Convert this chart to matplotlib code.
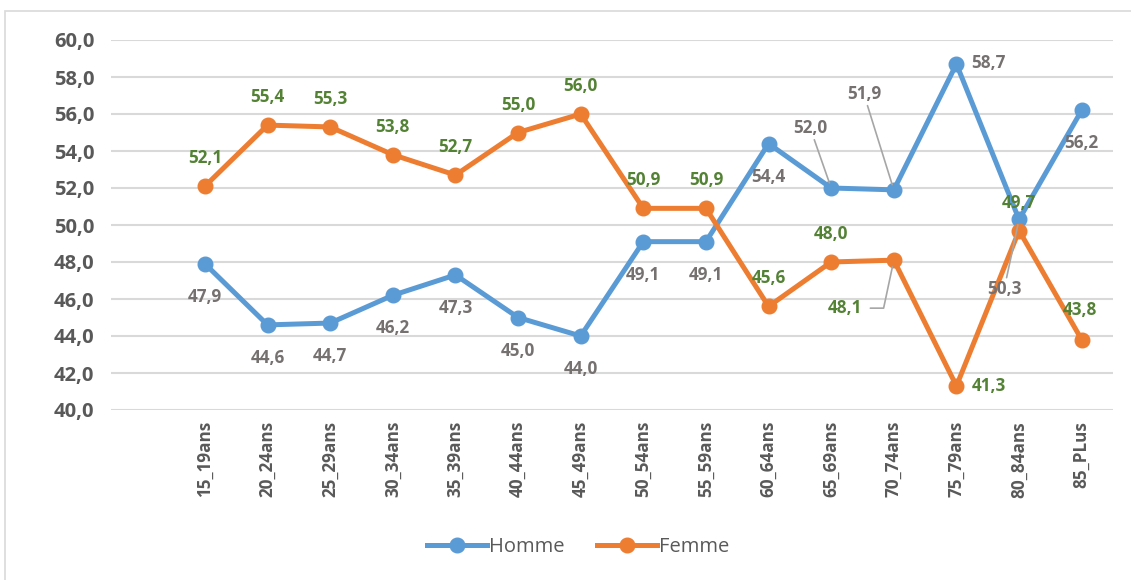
import matplotlib
matplotlib.use('Agg')
from matplotlib import pyplot as plt
from matplotlib.patches import Rectangle

# age groups and values
ages = ['15_19ans', '20_24ans', '25_29ans', '30_34ans', '35_39ans', '40_44ans',
        '45_49ans', '50_54ans', '55_59ans', '60_64ans', '65_69ans', '70_74ans',
        '75_79ans', '80_84ans', '85_PLus']
homme = [47.9, 44.6, 44.7, 46.2, 47.3, 45.0, 44.0, 49.1, 49.1, 54.4, 52.0, 51.9, 58.7, 50.3, 56.2]
femme = [52.1, 55.4, 55.3, 53.8, 52.7, 55.0, 56.0, 50.9, 50.9, 45.6, 48.0, 48.1, 41.3, 49.7, 43.8]

blue = '#5B9BD5'
orange = '#ED7D31'
gray_txt = '#767171'
green_txt = '#548235'
axis_txt = '#595959'
font = 'Open Sans'

fig = plt.figure(figsize=(11.31, 5.8), dpi=100)
ax = fig.add_axes([111 / 1131, 1 - 410 / 580, (1113 - 111) / 1131, (410 - 40) / 580])

# outer chart border
fig.patches.append(Rectangle((5 / 1131, -0.01), 1.0, 1 - 11 / 580 + 0.01, transform=fig.transFigure,
                             fill=False, edgecolor='#D9D9D9', lw=1.2))

x = list(range(len(ages)))
ax.plot(x, homme, color=blue, lw=3.6, marker='o', ms=10.5, label='Homme', zorder=3)
ax.plot(x, femme, color=orange, lw=3.6, marker='o', ms=10.5, label='Femme', zorder=3)

ax.set_xlim(-1.5, 14.5)
ax.set_ylim(40, 60)
ax.set_yticks(range(40, 61, 2))
ax.set_yticklabels([f'{v:.1f}'.replace('.', ',') for v in range(40, 61, 2)],
                   fontsize=14.5, fontweight='bold', color=axis_txt, family=font)
ax.set_xticks(x)
ax.set_xticklabels(ages, rotation=90, fontsize=12.3, fontweight='bold', color=axis_txt, family=font)
ax.tick_params(length=0, pad=12, axis='y')
ax.tick_params(length=0, pad=8, axis='x')
ax.grid(axis='y', color='#D9D9D9', lw=1.5)
ax.set_axisbelow(True)
for s in ax.spines.values():
    s.set_visible(False)


def fmt(v):
    return f'{v:.1f}'.replace('.', ',')


lead = dict(arrowstyle='-', color='#A6A6A6', lw=1.2, shrinkA=0, shrinkB=4)

# Homme labels (below by default)
for i, v in enumerate(homme):
    off = (0, -33)
    arrow = None
    if i == 10:
        off = (-21, 60)
        arrow = lead
    elif i == 11:
        off = (-30, 96)
        arrow = lead
    elif i == 12:
        off = (32, 1)
    elif i == 13:
        off = (-15, -70)
        arrow = lead
    ax.annotate(fmt(v), (i, v), xytext=off, textcoords='offset pixels', fontsize=12.3,
                fontweight='bold', color=gray_txt, family=font, arrowprops=arrow,
                ha='center', va='center', zorder=4)

# Femme labels (above by default)
for i, v in enumerate(femme):
    off = (0, 28)
    arrow = None
    if i == 11:
        off = (-49, -48)
        arrow = dict(arrowstyle='-', color='#A6A6A6', lw=1.2, shrinkA=4, shrinkB=5, relpos=(1, 0.5),
                     connectionstyle='angle,angleA=0,angleB=78,rad=0')
    elif i == 12:
        off = (32, 0)
    elif i == 14:
        off = (-2, 30)
    ax.annotate(fmt(v), (i, v), xytext=off, textcoords='offset pixels', fontsize=12.3,
                fontweight='bold', color=green_txt, family=font, arrowprops=arrow,
                ha='center', va='center', zorder=4)

leg = fig.legend(loc='center', bbox_to_anchor=(578 / 1131, 1 - 547 / 580), ncol=2, frameon=False,
                 prop={'family': font, 'size': 14.5}, handlelength=3.0, handletextpad=0.1,
                 columnspacing=1.6)
for t in leg.get_texts():
    t.set_color(axis_txt)

fig.savefig('out.png', dpi=100)
